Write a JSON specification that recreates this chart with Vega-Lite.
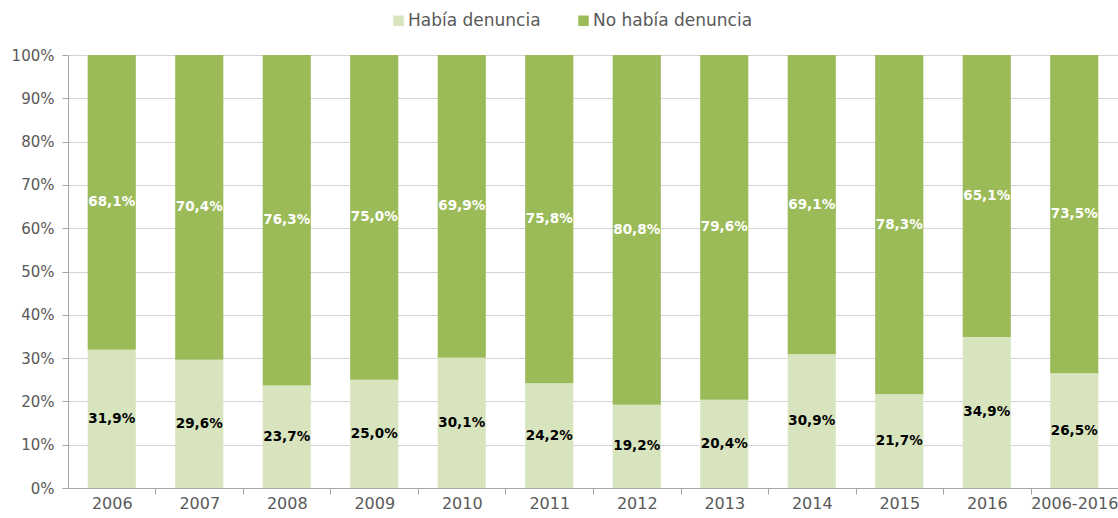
{
  "$schema": "https://vega.github.io/schema/vega-lite/v6.json",
  "width": 1050,
  "height": 433,
  "autosize": "none",
  "padding": {"left": 68, "top": 55, "right": 0, "bottom": 30},
  "background": "white",
  "config": {
    "locale": {"number": {"decimal": ",", "thousands": ".", "grouping": [3], "currency": ["", " €"]}},
    "view": {"stroke": null},
    "font": "DejaVu Sans",
    "axisY": {
      "format": ".0%", "values": [0, 0.1, 0.2, 0.3, 0.4, 0.5, 0.6, 0.7, 0.8, 0.9, 1],
      "labelFontSize": 15, "labelColor": "#595959", "labelPadding": 8,
      "ticks": true, "tickSize": 6, "tickColor": "#A6A6A6", "domain": true, "domainColor": "#A6A6A6",
      "grid": true, "gridColor": "#D4D4D4", "title": null
    }
  },
  "data": {
    "values": [
      {"anio": "2006", "tipo": "Había denuncia", "orden": 1, "valor": 0.319},
      {"anio": "2006", "tipo": "No había denuncia", "orden": 2, "valor": 0.681},
      {"anio": "2007", "tipo": "Había denuncia", "orden": 1, "valor": 0.296},
      {"anio": "2007", "tipo": "No había denuncia", "orden": 2, "valor": 0.704},
      {"anio": "2008", "tipo": "Había denuncia", "orden": 1, "valor": 0.237},
      {"anio": "2008", "tipo": "No había denuncia", "orden": 2, "valor": 0.763},
      {"anio": "2009", "tipo": "Había denuncia", "orden": 1, "valor": 0.250},
      {"anio": "2009", "tipo": "No había denuncia", "orden": 2, "valor": 0.750},
      {"anio": "2010", "tipo": "Había denuncia", "orden": 1, "valor": 0.301},
      {"anio": "2010", "tipo": "No había denuncia", "orden": 2, "valor": 0.699},
      {"anio": "2011", "tipo": "Había denuncia", "orden": 1, "valor": 0.242},
      {"anio": "2011", "tipo": "No había denuncia", "orden": 2, "valor": 0.758},
      {"anio": "2012", "tipo": "Había denuncia", "orden": 1, "valor": 0.192},
      {"anio": "2012", "tipo": "No había denuncia", "orden": 2, "valor": 0.808},
      {"anio": "2013", "tipo": "Había denuncia", "orden": 1, "valor": 0.204},
      {"anio": "2013", "tipo": "No había denuncia", "orden": 2, "valor": 0.796},
      {"anio": "2014", "tipo": "Había denuncia", "orden": 1, "valor": 0.309},
      {"anio": "2014", "tipo": "No había denuncia", "orden": 2, "valor": 0.691},
      {"anio": "2015", "tipo": "Había denuncia", "orden": 1, "valor": 0.217},
      {"anio": "2015", "tipo": "No había denuncia", "orden": 2, "valor": 0.783},
      {"anio": "2016", "tipo": "Había denuncia", "orden": 1, "valor": 0.349},
      {"anio": "2016", "tipo": "No había denuncia", "orden": 2, "valor": 0.651},
      {"anio": "2006-2016", "tipo": "Había denuncia", "orden": 1, "valor": 0.265},
      {"anio": "2006-2016", "tipo": "No había denuncia", "orden": 2, "valor": 0.735}
    ]
  },
  "transform": [
    {"stack": "valor", "groupby": ["anio"], "sort": [{"field": "orden", "order": "ascending"}], "as": ["v0", "v1"]},
    {"calculate": "(datum.v0 + datum.v1) / 2", "as": "vmid"}
  ],
  "encoding": {
    "x": {
      "field": "anio", "type": "nominal", "sort": null, "title": null,
      "scale": {"paddingInner": 0.45, "paddingOuter": 0.225},
      "axis": {
        "labelAngle": 0, "labelFontSize": 16, "labelColor": "#595959", "labelPadding": 1,
        "tickOffset": 43.75, "labelOffset": -43.75,
        "tickSize": 6, "tickColor": "#A6A6A6", "domainColor": "#A6A6A6"
      }
    }
  },
  "layer": [
    {
      "mark": {"type": "bar"},
      "encoding": {
        "y": {
          "field": "v0", "type": "quantitative", "title": null,
          "scale": {"domain": [0, 1]}
        },
        "y2": {"field": "v1"},
        "color": {
          "field": "tipo", "type": "nominal",
          "scale": {"domain": ["Había denuncia", "No había denuncia"], "range": ["#D7E4BD", "#9BBB59"]},
          "legend": {
            "title": null, "orient": "none", "direction": "horizontal",
            "legendX": 322, "legendY": -43,
            "symbolType": "square", "symbolSize": 110, "symbolStrokeWidth": 0,
            "labelFontSize": 17, "labelColor": "#595959", "columnPadding": 34, "labelOffset": 1
          }
        }
      }
    },
    {
      "mark": {"type": "text", "fontWeight": "bold", "fontSize": 13.5, "baseline": "middle", "align": "center"},
      "encoding": {
        "y": {"field": "vmid", "type": "quantitative", "title": null, "scale": {"domain": [0, 1]}},
        "text": {"field": "valor", "type": "quantitative", "format": ".1%"},
        "color": {
          "condition": {"test": "datum.tipo === 'Había denuncia'", "value": "#000000"},
          "value": "#FFFFFF"
        }
      }
    }
  ]
}
